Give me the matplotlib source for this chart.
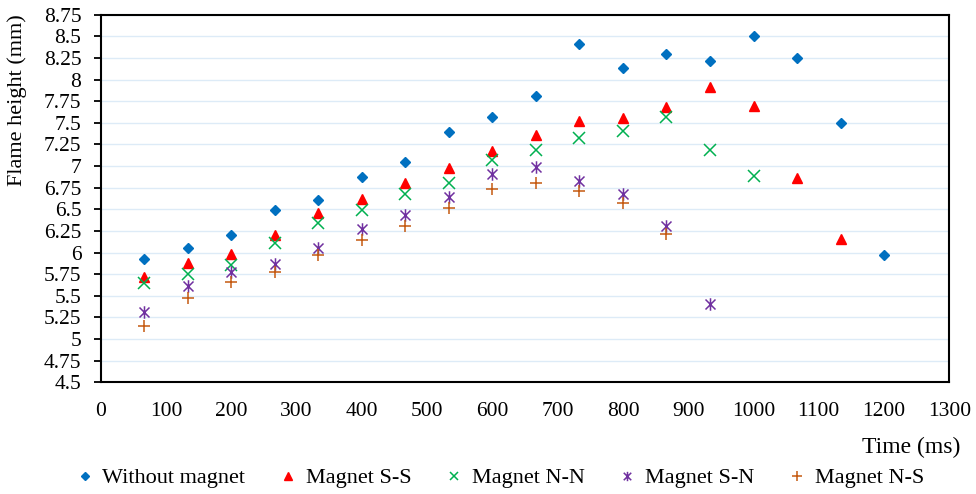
import matplotlib
matplotlib.use("Agg")
import matplotlib.pyplot as plt
from matplotlib.path import Path
from matplotlib.ticker import FuncFormatter, MultipleLocator

plt.rcParams['font.family'] = ['Liberation Serif', 'DejaVu Serif']

time_ms = [66.7, 133.3, 200, 266.7, 333.3, 400, 466.7, 533.3, 600, 666.7,
           733.3, 800, 866.7, 933.3, 1000, 1066.7, 1133.3, 1200]

without_magnet = [5.92, 6.05, 6.20, 6.49, 6.61, 6.87, 7.05, 7.39, 7.57, 7.81,
                  8.41, 8.13, 8.30, 8.21, 8.50, 8.25, 7.50, 5.97]
magnet_ss = [5.72, 5.88, 5.98, 6.20, 6.46, 6.62, 6.80, 6.98, 7.18, 7.36,
             7.52, 7.56, 7.68, 7.92, 7.70, 6.86, 6.16]
magnet_nn = [5.65, 5.75, 5.86, 6.11, 6.34, 6.49, 6.68, 6.81, 7.07, 7.19,
             7.33, 7.41, 7.57, 7.19, 6.89]
magnet_sn = [5.31, 5.61, 5.78, 5.87, 6.05, 6.27, 6.43, 6.64, 6.91, 6.99,
             6.83, 6.68, 6.31, 5.41]
magnet_ns = [5.15, 5.47, 5.66, 5.77, 5.97, 6.15, 6.31, 6.51, 6.73, 6.81,
             6.71, 6.57, 6.21]

labels = ["Without magnet", "Magnet S-S", "Magnet N-N", "Magnet S-N", "Magnet N-S"]
colors = ["#0070C0", "#FF0000", "#00B050", "#7030A0", "#C55A11"]

star = Path([(-1, -1), (1, 1), (-1, 1), (1, -1), (0, -1.25), (0, 1.25)],
            [Path.MOVETO, Path.LINETO, Path.MOVETO, Path.LINETO, Path.MOVETO, Path.LINETO])

fig = plt.figure(figsize=(9.76, 4.94), dpi=100)
ax = fig.add_axes([0.1032, 0.2261, 0.8695, 0.7441])

series = [without_magnet, magnet_ss, magnet_nn, magnet_sn, magnet_ns]
styles = [dict(marker='D', markersize=5.5, linestyle='none'),
          dict(marker='^', markersize=7.5, linestyle='none'),
          dict(marker='x', markersize=8.5, markeredgewidth=1.1, linestyle='none'),
          dict(marker=star, markersize=9, markeredgewidth=1.1, linestyle='none'),
          dict(marker='+', markersize=9, markeredgewidth=1.1, linestyle='none')]

for vals, lab, col, st in zip(series, labels, colors, styles):
    ax.plot(time_ms[:len(vals)], vals, color=col, markeredgecolor=col, label=lab, zorder=3, **st)

ax.set_xlim(0, 1300)
ax.set_ylim(4.5, 8.75)
ax.xaxis.set_major_locator(MultipleLocator(100))
ax.yaxis.set_major_locator(MultipleLocator(0.25))
ax.yaxis.set_major_formatter(FuncFormatter(lambda v, p: f"{v:g}"))
ax.grid(axis='y', color='#DDEBF7', linewidth=1.0, zorder=0)
ax.set_axisbelow(True)

for s in ax.spines.values():
    s.set_color('black')
    s.set_linewidth(1.5)

ax.tick_params(axis='y', direction='out', length=5, width=1.3, labelsize=15.5, pad=9)
ax.tick_params(axis='x', length=0, labelsize=15.5, pad=14)

ax.set_ylabel("Flame height (mm)", fontsize=16)
ax.yaxis.set_label_coords(-0.087, 0.768)
fig.text(0.934, 0.095, "Time (ms)", fontsize=17, ha='center', va='center')

fig.legend(loc='center', bbox_to_anchor=(0.511, 0.032), ncol=5, frameon=False,
           fontsize=16, handletextpad=0.3, columnspacing=1.42, handlelength=1.0,
           markerscale=0.75)

fig.savefig("out.png", dpi=100)
